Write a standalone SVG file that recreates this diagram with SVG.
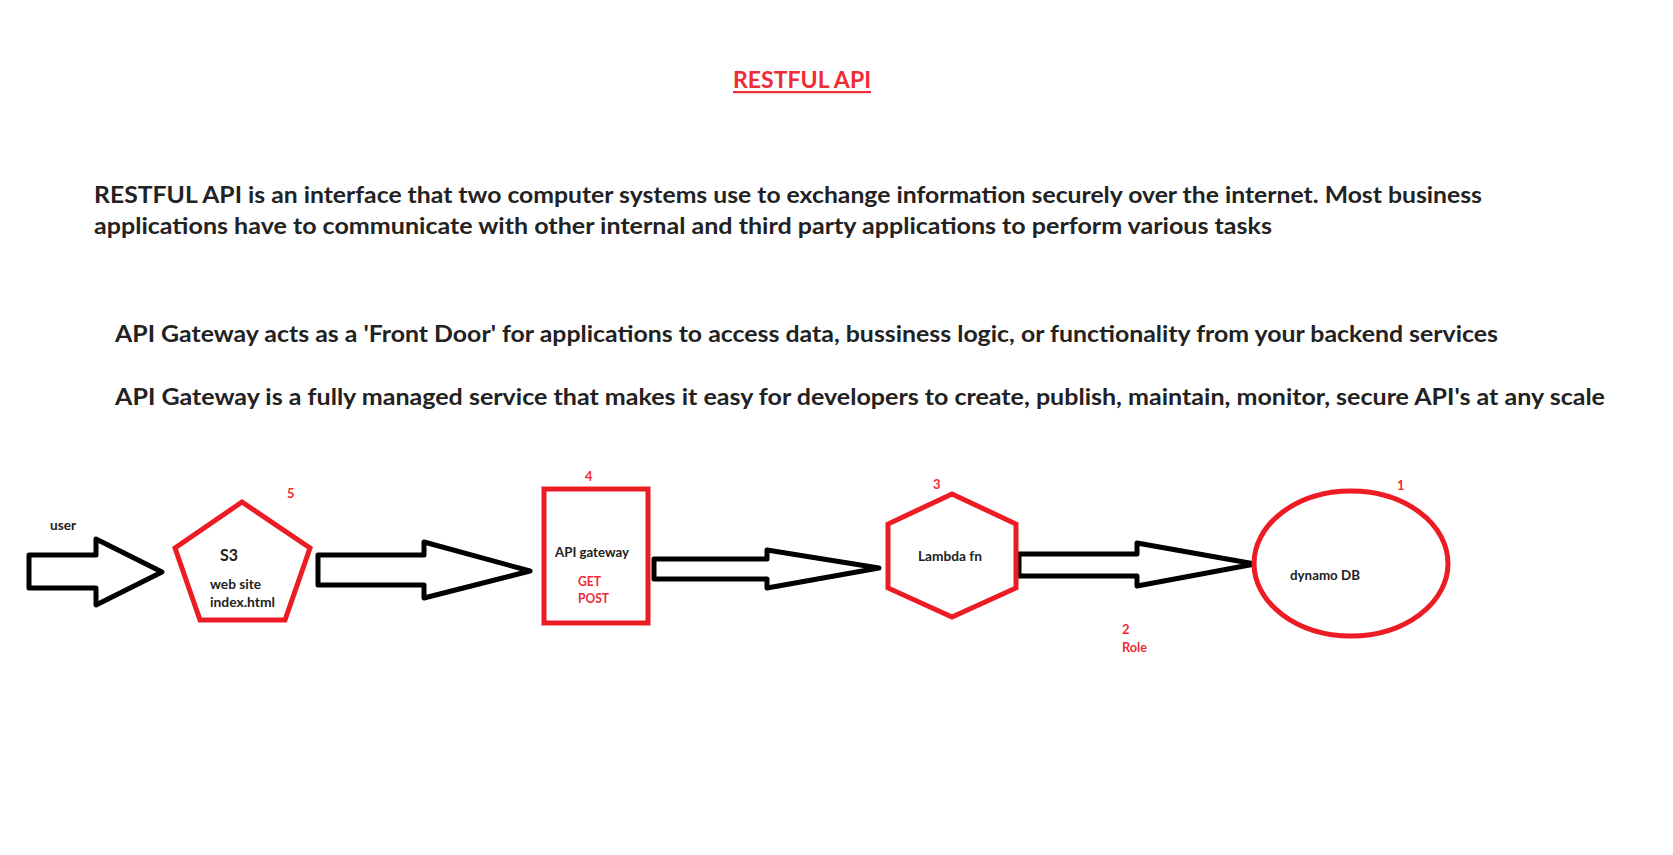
<svg xmlns="http://www.w3.org/2000/svg" width="1673" height="855" viewBox="0 0 1673 855">
<style>
.txt{font-family:Lato,"Open Sans","Liberation Sans",sans-serif;font-weight:bold;fill:#222222}
.big{font-size:22px}
.sm{font-size:13px}
.red{fill:#ee2c36}
.shape{fill:#ffffff;stroke:#ed1c24;stroke-width:5}
.arrow{fill:#ffffff;stroke:#000000;stroke-width:5;stroke-linejoin:round}
</style>
<rect width="1673" height="855" fill="#ffffff"/>
<g id="header">
<text class="txt red" x="733" y="88" font-size="22" textLength="138" lengthAdjust="spacingAndGlyphs">RESTFUL API</text>
<rect x="733" y="91" width="138" height="2.2" fill="#ee2c36"/>
<text class="txt big" x="94" y="203" textLength="1388" lengthAdjust="spacingAndGlyphs">RESTFUL API is an interface that two computer systems use to exchange information securely over the internet. Most business</text>
<text class="txt big" x="94" y="234" textLength="1178" lengthAdjust="spacingAndGlyphs">applications have to communicate with other internal and third party applications to perform various tasks</text>
<text class="txt big" x="115" y="342" textLength="1383" lengthAdjust="spacingAndGlyphs">API Gateway acts as a 'Front Door' for applications to access data, bussiness logic, or functionality from your backend services</text>
<text class="txt big" x="115" y="405" textLength="1490" lengthAdjust="spacingAndGlyphs">API Gateway is a fully managed service that makes it easy for developers to create, publish, maintain, monitor, secure API's at any scale</text>
</g>
<g id="connectors">
<polygon class="arrow" points="29,555 96,555 96,539 162,572 96,605 96,588 29,588"/>
<polygon class="arrow" points="318,555 424,555 424,542 530,571 424,598 424,585 318,585"/>
<polygon class="arrow" points="654,559 767,559 767,550 879,568 767,588 767,579 654,579"/>
<polygon class="arrow" points="1019,554 1137,554 1137,543 1255,564 1137,586 1137,576 1019,576"/>
<text class="txt sm" x="50" y="530" textLength="26" lengthAdjust="spacingAndGlyphs">user</text>
<g id="role-label">
<text class="txt sm red" x="1122" y="634">2</text>
<text class="txt sm red" x="1122" y="652" textLength="25" lengthAdjust="spacingAndGlyphs">Role</text>
</g>
</g>
<g id="node-s3">
<polygon class="shape" points="242,502 310,548 285,620 200,620 175,548"/>
<text class="txt red sm" x="287" y="498">5</text>
<text class="txt" font-size="17" x="220" y="561" textLength="18" lengthAdjust="spacingAndGlyphs">S3</text>
<text class="txt sm" x="210" y="589" textLength="51" lengthAdjust="spacingAndGlyphs">web site</text>
<text class="txt sm" x="210" y="607" textLength="65" lengthAdjust="spacingAndGlyphs">index.html</text>
</g>
<g id="node-apigw">
<rect class="shape" x="544" y="489" width="104" height="134"/>
<text class="txt red sm" x="585" y="481">4</text>
<text class="txt sm" x="555" y="557" textLength="74" lengthAdjust="spacingAndGlyphs">API gateway</text>
<text class="txt red sm" x="578" y="586" textLength="23" lengthAdjust="spacingAndGlyphs">GET</text>
<text class="txt red sm" x="578" y="603" textLength="31" lengthAdjust="spacingAndGlyphs">POST</text>
</g>
<g id="node-lambda">
<polygon class="shape" points="952,494 1016,524 1016,588 952,617 888,588 888,524"/>
<text class="txt red sm" x="933" y="489">3</text>
<text class="txt sm" x="918" y="561" textLength="64" lengthAdjust="spacingAndGlyphs">Lambda fn</text>
</g>
<g id="node-dynamo">
<ellipse class="shape" cx="1351" cy="563.5" rx="97" ry="72.5"/>
<text class="txt red sm" x="1397" y="490">1</text>
<text class="txt sm" x="1290" y="580" textLength="70" lengthAdjust="spacingAndGlyphs">dynamo DB</text>
</g>
</svg>
